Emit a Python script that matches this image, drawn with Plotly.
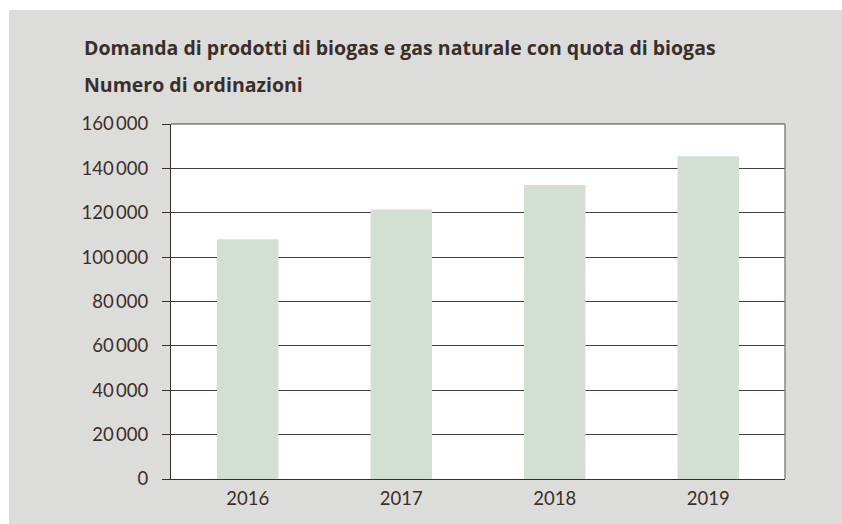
import plotly.graph_objects as go

years = ["2016", "2017", "2018", "2019"]
orders = [108000, 121500, 132500, 145500]
title_text = "Domanda di prodotti di biogas e gas naturale con quota di biogas"
subtitle_text = "Numero di ordinazioni"

W, H = 842, 524
L, R, T, B = 171, 57, 124, 45
pw, ph = W - L - R, H - T - B

def px(x):
    return (x - L) / pw

def py(y):
    return (H - B - y) / ph

text_color = "#3a2e2a"
font = "Lato"
title_font = "Open Sans"

fig = go.Figure()
fig.add_trace(go.Bar(x=years, y=orders, marker=dict(color="#d4dfd3", line=dict(width=0)),
                     width=0.4, hoverinfo="skip"))

fig.update_layout(
    width=W, height=H,
    margin=dict(l=L, r=R, t=T, b=B, pad=0),
    paper_bgcolor="#dcdcdb",
    plot_bgcolor="white",
    separators=",\u2009",
    showlegend=False,
    font=dict(family=font, color=text_color, size=18),
    xaxis=dict(showgrid=False, showline=True, linecolor=text_color, linewidth=1,
               ticks="", tickfont=dict(size=18.5, color=text_color), ticklabelstandoff=3,
               fixedrange=True),
    yaxis=dict(range=[0, 160000], tickvals=[0, 20000, 40000, 60000, 80000, 100000, 120000, 140000, 160000],
               tickformat=",d", showgrid=True, gridcolor="#4a403b", gridwidth=1,
               zeroline=False, showline=True, linecolor=text_color, linewidth=1,
               ticks="outside", ticklen=8, tickcolor=text_color, tickwidth=1,
               ticklabelstandoff=10, tickfont=dict(size=18.5, color=text_color), fixedrange=True),
    shapes=[
        dict(type="rect", xref="paper", yref="paper", x0=px(-5), x1=px(W + 5), y0=py(10), y1=py(-5),
             fillcolor="white", line=dict(width=0), layer="below"),
        dict(type="rect", xref="paper", yref="paper", x0=px(-5), x1=px(9), y0=py(W), y1=py(-5),
             fillcolor="white", line=dict(width=0), layer="below"),
        dict(type="line", xref="paper", yref="paper", x0=0, x1=1, y0=1, y1=1,
             line=dict(color="#4a403b", width=1), layer="above"),
        dict(type="line", xref="paper", yref="paper", x0=1, x1=1, y0=0, y1=1,
             line=dict(color="#8a8580", width=1.5), layer="above"),
    ],
    annotations=[
        dict(text="<b>" + title_text + "</b>", xref="paper", yref="paper", x=px(82), y=py(47),
             xanchor="left", yanchor="middle", showarrow=False,
             font=dict(family=title_font, size=19.5, color=text_color)),
        dict(text="<b>" + subtitle_text + "</b>", xref="paper", yref="paper", x=px(82), y=py(85),
             xanchor="left", yanchor="middle", showarrow=False,
             font=dict(family=title_font, size=19.5, color=text_color)),
    ],
)

fig.write_html(
    "out.html",
    config={"displayModeBar": False, "staticPlot": True},
    post_script="document.body.style.margin='0';document.documentElement.style.overflow='hidden';document.body.style.overflow='hidden';",
)
